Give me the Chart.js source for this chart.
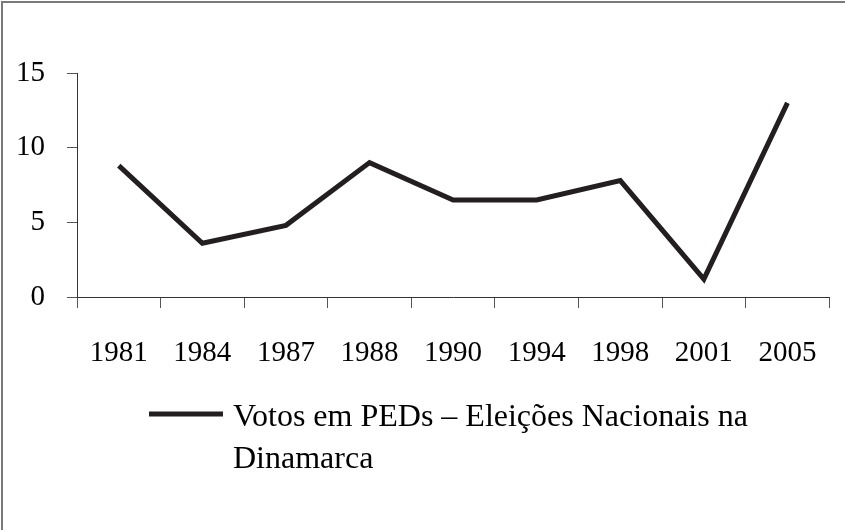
<!DOCTYPE html>
<html>
<head>
<meta charset="utf-8">
<script src="https://cdn.jsdelivr.net/npm/chart.js@4/dist/chart.umd.min.js"></script>
<style>
html,body{margin:0;padding:0;background:#fff;}
#wrap{position:relative;width:845px;height:530px;}
</style>
</head>
<body>
<div id="wrap"><canvas id="c" width="845" height="530"></canvas></div>
<script>
const categories = ["1981","1984","1987","1988","1990","1994","1998","2001","2005"];
const votes = [8.8, 3.6, 4.8, 9.0, 6.5, 6.5, 7.8, 1.2, 13.0];
const yTicks = [0, 5, 10, 15];
const legendLines = ["Votos em PEDs \u2013 Elei\u00e7\u00f5es Nacionais na", "Dinamarca"];

const FONT = '"Liberation Serif", "Times New Roman", serif';
const lineColor = '#231f20';

const legendPlugin = {
  id: 'customLegend',
  afterDraw(chart) {
    const ctx = chart.ctx;
    const a = chart.chartArea;
    ctx.save();
    // frame
    ctx.strokeStyle = '#7a7a7a';
    ctx.lineWidth = 2;
    ctx.beginPath();
    ctx.moveTo(2, 530);
    ctx.lineTo(2, 2);
    ctx.lineTo(845, 2);
    ctx.stroke();
    // legend marker
    ctx.strokeStyle = lineColor;
    ctx.lineWidth = 5;
    ctx.lineCap = 'butt';
    ctx.beginPath();
    ctx.moveTo(a.left + 72, a.bottom + 117);
    ctx.lineTo(a.left + 146, a.bottom + 117);
    ctx.stroke();
    ctx.fillStyle = '#000';
    ctx.font = '32px ' + FONT;
    ctx.textBaseline = 'alphabetic';
    ctx.textAlign = 'left';
    legendLines.forEach((t, i) => {
      ctx.fillText(t, a.left + 156, a.bottom + 129 + i * 42);
    });
    ctx.restore();
  }
};

new Chart(document.getElementById('c'), {
  type: 'line',
  data: {
    labels: categories,
    datasets: [{
      label: legendLines.join(' '),
      data: votes,
      borderColor: lineColor,
      borderWidth: 5,
      borderJoinStyle: 'miter',
      borderCapStyle: 'butt',
      pointRadius: 0,
      pointHoverRadius: 0,
      fill: false,
      tension: 0
    }]
  },
  options: {
    responsive: false,
    animation: false,
    layout: { padding: { left: 0, right: 10, top: 73, bottom: 153 } },
    plugins: {
      legend: { display: false },
      tooltip: { enabled: false }
    },
    scales: {
      x: {
        offset: true,
        grid: { offset: true, drawOnChartArea: false, drawTicks: true, tickLength: 11, color: '#555', lineWidth: 1 },
        border: { color: '#333', width: 1 },
        ticks: { color: '#000', font: { family: FONT, size: 29 }, padding: 28, maxRotation: 0, autoSkip: false },
        afterFit(s) { s.height = 80; }
      },
      y: {
        min: 0, max: 15,
        afterBuildTicks(s) { s.ticks = yTicks.map(v => ({ value: v })); },
        grid: { drawOnChartArea: false, drawTicks: true, tickLength: 10, color: '#555', lineWidth: 1 },
        border: { color: '#333', width: 1 },
        ticks: { color: '#000', font: { family: FONT, size: 29 }, padding: 22 },
        afterFit(s) { s.width = 77; }
      }
    }
  },
  plugins: [legendPlugin]
});
</script>
</body>
</html>
